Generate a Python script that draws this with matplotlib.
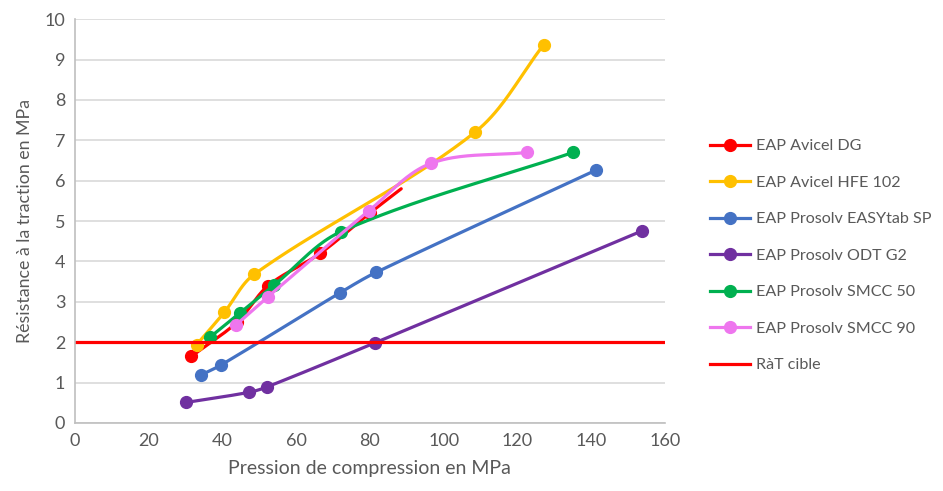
import numpy as np
import matplotlib.pyplot as plt

plt.rcParams['font.family'] = ['Lato', 'DejaVu Sans']

# data (pressure MPa, tensile strength MPa)
dg_x = [31.6, 44.0, 52.4, 66.5, 80.0, 88.5]
dg_y = [1.65, 2.50, 3.40, 4.20, 5.20, 5.80]
hfe_x = [33.0, 40.5, 48.6, 108.5, 127.1]
hfe_y = [1.94, 2.74, 3.68, 7.20, 9.36]
easy_x = [34.2, 39.7, 72.0, 81.7, 141.3]
easy_y = [1.19, 1.44, 3.23, 3.73, 6.26]
odt_x = [30.2, 47.2, 52.0, 81.5, 153.9]
odt_y = [0.51, 0.76, 0.89, 1.99, 4.76]
smcc50_x = [36.7, 44.7, 54.1, 72.2, 135.1]
smcc50_y = [2.13, 2.72, 3.42, 4.74, 6.70]
smcc90_x = [43.7, 52.4, 79.8, 96.6, 122.6]
smcc90_y = [2.43, 3.13, 5.26, 6.43, 6.70]
target = 2.0

series = [
    ('EAP Avicel DG', dg_x, dg_y, '#FF0000', [0, 1, 2, 3, 4]),
    ('EAP Avicel HFE 102', hfe_x, hfe_y, '#FFC000', None),
    ('EAP Prosolv EASYtab SP', easy_x, easy_y, '#4472C4', None),
    ('EAP Prosolv ODT G2', odt_x, odt_y, '#7030A0', None),
    ('EAP Prosolv SMCC 50', smcc50_x, smcc50_y, '#00B050', None),
    ('EAP Prosolv SMCC 90', smcc90_x, smcc90_y, '#EE76EE', None),
]

YS = 11.0  # y stretch so tangents are computed in roughly screen space


def smooth(xs, ys, n=40):
    p = np.column_stack([xs, np.array(ys) * YS]).astype(float)
    out = [p[0]]
    t = np.linspace(0, 1, n)[1:, None]
    for i in range(len(p) - 1):
        p0 = p[i - 1] if i > 0 else p[i]
        p1, p2 = p[i], p[i + 1]
        p3 = p[i + 2] if i + 2 < len(p) else p[i + 1]
        L = np.linalg.norm(p2 - p1)
        d1 = p2 - p0
        d2 = p3 - p1
        c1 = p1 + d1 / np.linalg.norm(d1) * L / 3
        c2 = p2 - d2 / np.linalg.norm(d2) * L / 3
        seg = ((1 - t) ** 3) * p1 + 3 * ((1 - t) ** 2) * t * c1 + 3 * (1 - t) * t ** 2 * c2 + t ** 3 * p2
        out.extend(seg)
    out = np.array(out)
    return out[:, 0], out[:, 1] / YS


fig = plt.figure(figsize=(9.43, 4.91), dpi=100)
ax = fig.add_axes([0.0795, 0.1385, 0.6255, 0.8225])

for label, xs, ys, color, marks in series:
    sx, sy = smooth(xs, ys)
    ax.plot(sx, sy, color=color, lw=2.3, solid_capstyle='round')
    mx = xs if marks is None else [xs[i] for i in marks]
    my = ys if marks is None else [ys[i] for i in marks]
    ax.plot(mx, my, 'o', color=color, ms=8.5, mec=color)
    ax.plot([], [], '-o', color=color, lw=2.3, ms=8.5, label=label)

ax.axhline(target, color='#FF0000', lw=2.3, label='RàT cible')

ax.set_xlim(0, 160)
ax.set_ylim(0, 10)
ax.set_xticks(range(0, 161, 20))
ax.set_yticks(range(0, 11))
ax.grid(axis='y', color='#D9D9D9', lw=1.2)
ax.set_axisbelow(True)
for s in ['top', 'right']:
    ax.spines[s].set_visible(False)
for s in ['left', 'bottom']:
    ax.spines[s].set_color('#BFBFBF')
    ax.spines[s].set_linewidth(1.2)
ax.tick_params(length=0, colors='#595959', labelsize=13, pad=7)
ax.set_xlabel('Pression de compression en MPa', fontsize=14, color='#595959', labelpad=8)
ax.set_ylabel('Résistance à la traction en MPa', fontsize=12.8, color='#595959', labelpad=8)

leg = ax.legend(loc='center left', bbox_to_anchor=(0.7375, 0.479), bbox_transform=fig.transFigure,
                frameon=False, fontsize=11.6, labelspacing=1.38, handlelength=2.5, handletextpad=0.35)
for t in leg.get_texts():
    t.set_color('#595959')

fig.savefig('out.png', dpi=100)
